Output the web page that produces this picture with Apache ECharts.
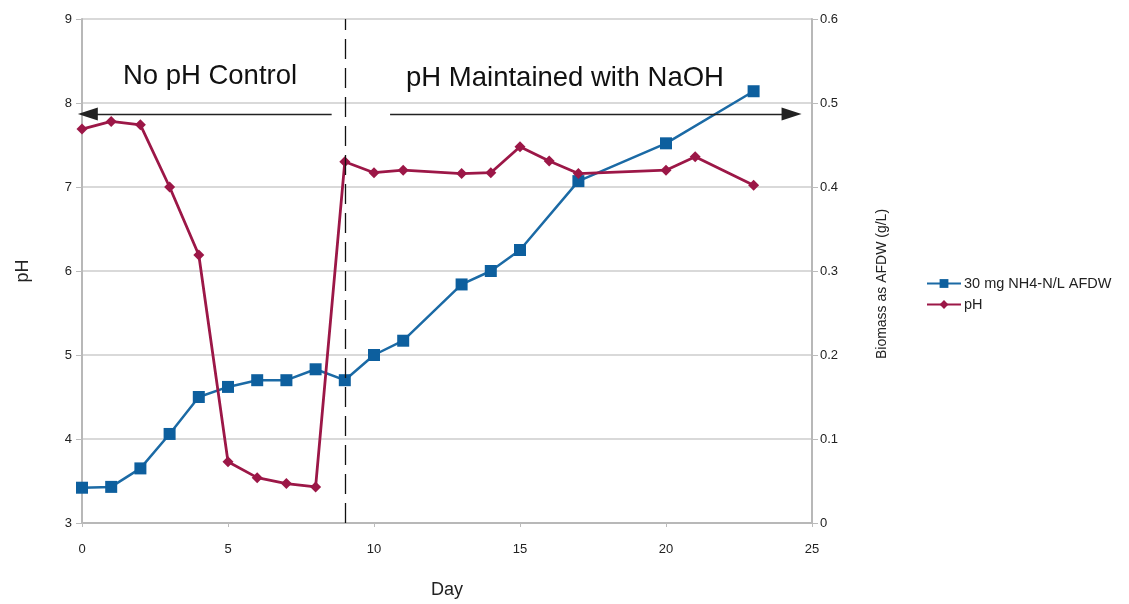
<!DOCTYPE html>
<html>
<head>
<meta charset="utf-8">
<script src="https://cdn.jsdelivr.net/npm/echarts@6/dist/echarts.min.js"></script>
<style>
  html, body { margin: 0; padding: 0; background: #fff; }
  #chart { width: 1129px; height: 604px; }
</style>
</head>
<body>
<div id="chart"></div>
<script>
// Biomass (g/L, right axis) by day
const biomassDays = [0, 1, 2, 3, 4, 5, 6, 7, 8, 9, 10, 11, 13, 14, 15, 17, 20, 23];
const biomassValues = [0.042, 0.043, 0.065, 0.106, 0.150, 0.162, 0.170, 0.170, 0.183, 0.170, 0.200, 0.217, 0.284, 0.300, 0.325, 0.407, 0.452, 0.514];

// pH (left axis) by day
const phDays = [0, 1, 2, 3, 4, 5, 6, 7, 8, 9, 10, 11, 13, 14, 15, 16, 17, 20, 21, 23];
const phValues = [7.69, 7.78, 7.74, 7.00, 6.19, 3.73, 3.54, 3.47, 3.43, 7.30, 7.17, 7.20, 7.16, 7.17, 7.48, 7.31, 7.16, 7.20, 7.36, 7.02];

// Day NaOH dosing began, and the phase arrows (start day, end day, pH level)
const controlStartDay = 9;
const noControlArrow = [8.55, 0.2, 7.87];
const controlArrow = [10.55, 24.3, 7.87];

const seriesNames = ['30 mg NH4-N/L AFDW', 'pH'];
const phaseLabels = ['No pH Control', 'pH Maintained with NaOH'];
const biomassAxisName = 'Biomass as AFDW (g/L)';

const blue = '#1b6aa5';
const red = '#9c1747';
const font = 'Liberation Sans, Arial, sans-serif';

const chart = echarts.init(document.getElementById('chart'));

const axisLabel = { color: '#222', fontSize: 13, fontFamily: font };
const gridLine = { lineStyle: { color: '#cdcdcd', width: 1.5 } };
const axisLine = { show: true, lineStyle: { color: '#b8b8b8', width: 2 } };

chart.setOption({
  animation: false,
  textStyle: { fontFamily: font },
  grid: { left: 82, right: 317, top: 19, bottom: 74, containLabel: false },
  legend: {
    orient: 'vertical',
    left: 921,
    top: 271,
    itemWidth: 34,
    itemHeight: 11,
    itemGap: 6,
    data: seriesNames,
    textStyle: { fontSize: 14.5, color: '#222', fontFamily: font, padding: [0, 0, 0, -2] }
  },
  xAxis: {
    type: 'value',
    min: 0, max: 25, interval: 5,
    name: 'Day',
    nameLocation: 'middle',
    nameGap: 58,
    nameTextStyle: { fontSize: 18, color: '#222', fontFamily: font },
    axisLine: axisLine,
    axisTick: { show: true, length: 4, lineStyle: { color: '#bbb' } },
    axisLabel: Object.assign({ margin: 20 }, axisLabel),
    splitLine: { show: false }
  },
  yAxis: [
    {
      type: 'value',
      min: 3, max: 9, interval: 1,
      name: 'pH',
      nameLocation: 'middle',
      nameGap: 50,
      nameTextStyle: { fontSize: 18, color: '#222', fontFamily: font },
      axisLine: axisLine,
      axisTick: { show: true, length: 6, lineStyle: { color: '#bbb' } },
      axisLabel: Object.assign({ margin: 10 }, axisLabel),
      splitLine: gridLine
    },
    {
      type: 'value',
      position: 'right',
      min: 0, max: 0.6, interval: 0.1,
      axisLine: axisLine,
      axisTick: { show: true, length: 6, lineStyle: { color: '#bbb' } },
      axisLabel: Object.assign({ margin: 8, formatter: v => String(Math.round(v * 10) / 10) }, axisLabel),
      splitLine: { show: false }
    }
  ],
  graphic: [
    {
      type: 'text', x: 210, y: 76,
      style: { text: phaseLabels[0], fontSize: 27.5, fill: '#111', fontFamily: font, textAlign: 'center', textVerticalAlign: 'middle' }
    },
    {
      type: 'text', x: 565, y: 78,
      style: { text: phaseLabels[1], fontSize: 27.5, fill: '#111', fontFamily: font, textAlign: 'center', textVerticalAlign: 'middle' }
    },
    {
      type: 'text', x: 882, y: 284, rotation: Math.PI / 2,
      style: { text: biomassAxisName, fontSize: 14, fill: '#222', fontFamily: font, textAlign: 'center', textVerticalAlign: 'middle' }
    }
  ],
  series: [
    {
      name: seriesNames[0],
      type: 'line',
      yAxisIndex: 1,
      data: biomassDays.map((d, i) => [d, biomassValues[i]]),
      symbol: 'rect',
      symbolSize: 12,
      lineStyle: { color: blue, width: 2.5 },
      itemStyle: { color: '#0d5f9e' },
      z: 3
    },
    {
      name: seriesNames[1],
      type: 'line',
      yAxisIndex: 0,
      data: phDays.map((d, i) => [d, phValues[i]]),
      symbol: 'diamond',
      symbolSize: 11,
      lineStyle: { color: red, width: 2.8 },
      itemStyle: { color: red },
      z: 4,
      markLine: {
        silent: true,
        animation: false,
        label: { show: false },
        data: [
          [
            { coord: [controlStartDay, 3], symbol: 'none', lineStyle: { color: '#111', width: 1.3, type: [20, 9] } },
            { coord: [controlStartDay, 9], symbol: 'none' }
          ],
          [
            { coord: [noControlArrow[0], noControlArrow[2]], symbol: 'none', lineStyle: { color: '#222', width: 1.3, type: 'solid' } },
            { coord: [noControlArrow[1], noControlArrow[2]], symbol: 'triangle', symbolSize: [13, 20] }
          ],
          [
            { coord: [controlArrow[0], controlArrow[2]], symbol: 'none', lineStyle: { color: '#222', width: 1.3, type: 'solid' } },
            { coord: [controlArrow[1], controlArrow[2]], symbol: 'triangle', symbolSize: [13, 20] }
          ]
        ],
        itemStyle: { color: '#111' }
      }
    }
  ]
});
</script>
</body>
</html>
